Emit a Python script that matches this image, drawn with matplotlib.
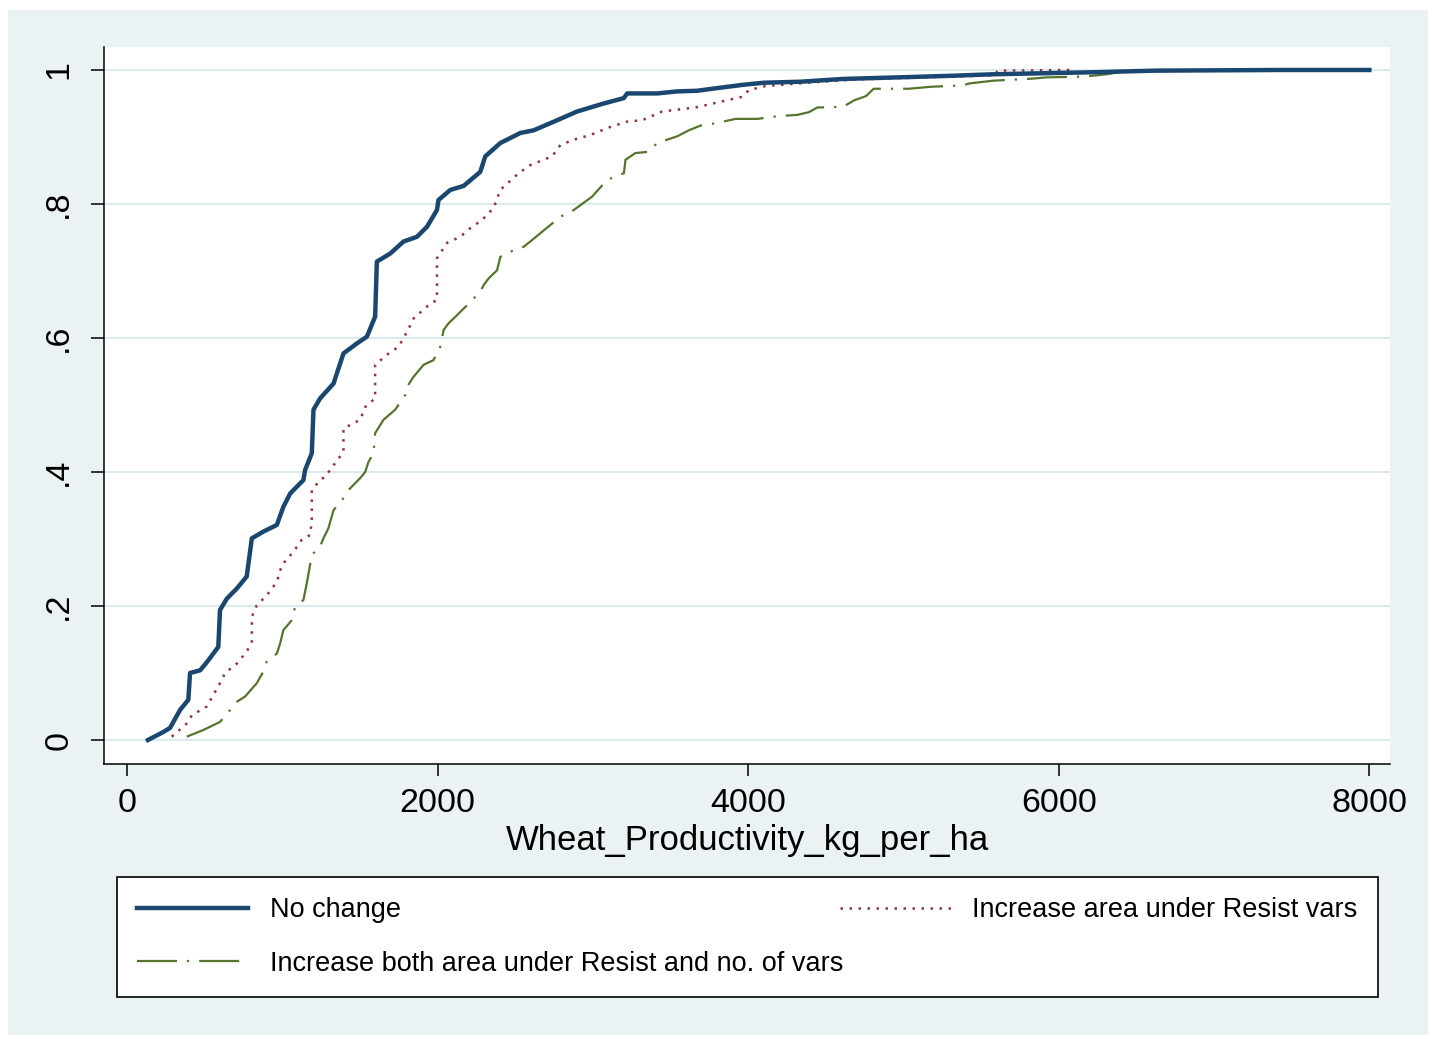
import matplotlib
matplotlib.use("Agg")
import matplotlib.pyplot as plt
from matplotlib.patches import Rectangle

plt.rcParams["font.family"] = ["Liberation Sans", "DejaVu Sans"]

# ---- data ---------------------------------------------------------------------
nochange_x = [135, 234, 277, 342, 395, 406, 471, 524, 588, 599, 643, 707, 771, 804,
              878, 965, 1007, 1051, 1136, 1147, 1190, 1201, 1244, 1330, 1394, 1481,
              1545, 1598, 1609, 1695, 1781, 1867, 1932, 1996, 2006, 2082, 2168, 2275,
              2307, 2404, 2533, 2619, 2770, 2898, 3070, 3199, 3221, 3414, 3543, 3672,
              3801, 3972, 4101, 4338, 4608, 5056, 5329, 5575, 6220, 6619, 7425, 8000]
nochange_y = [0.0, .012, .018, .045, .06, .10, .104, .119, .139, .194, .211, .226, .244,
              .301, .311, .321, .348, .368, .388, .403, .428, .493, .51, .532, .577, .592,
              .602, .632, .714, .726, .744, .751, .766, .791, .806, .821, .827, .848, .871,
              .891, .906, .910, .925, .938, .950, .958, .965, .965, .968, .969, .973, .978,
              .981, .9825, .9866, .9896, .9915, .9936, .9966, .999, 1.0, 1.0]

resist_x = [288, 363, 395, 417, 514, 599, 632, 707, 771, 804, 804, 836, 900, 965, 997,
            1072, 1126, 1180, 1190, 1190, 1244, 1276, 1394, 1394, 1502, 1534, 1598, 1598,
            1674, 1749, 1803, 1845, 1932, 1996, 1996, 2061, 2146, 2211, 2286, 2361, 2404,
            2522, 2597, 2737, 2791, 2877, 2984, 3113, 3221, 3317, 3446, 3661, 3962, 4005,
            4112, 4273, 4381, 4700, 5300, 5580, 5610, 6100]
resist_y = [.005, .020, .027, .037, .050, .085, .10, .114, .132, .147, .184, .201, .216,
            .236, .261, .281, .299, .306, .328, .373, .388, .393, .430, .465, .478, .497,
            .510, .560, .575, .587, .609, .629, .647, .657, .719, .742, .751, .764, .776,
            .794, .821, .846, .858, .871, .888, .896, .903, .915, .923, .925, .938, .944,
            .960, .970, .976, .979, .981, .986, .990, .992, .999, 1.0]

both_x = [385, 492, 599, 664, 707, 761, 836, 878, 900, 965, 986, 1007, 1062, 1083, 1136,
          1158, 1190, 1244, 1265, 1297, 1330, 1394, 1426, 1502, 1534, 1555, 1588, 1598,
          1652, 1727, 1792, 1803, 1845, 1910, 1974, 2017, 2039, 2071, 2125, 2190, 2275,
          2297, 2329, 2383, 2404, 2490, 2554, 2597, 2791, 2877, 2995, 3092, 3200, 3210,
          3274, 3360, 3414, 3543, 3618, 3693, 3801, 3919, 4059, 4188, 4316, 4391, 4445,
          4610, 4685, 4759, 4808, 5032, 5181, 5379, 5427, 5577, 5825, 5923, 6148, 6246,
          6321, 6394, 6568, 6643]
both_y = [.005, .015, .027, .045, .057, .065, .085, .102, .117, .129, .144, .164, .179,
          .199, .209, .234, .276, .289, .301, .316, .343, .361, .373, .391, .400, .415,
          .428, .458, .478, .493, .515, .527, .542, .560, .567, .587, .612, .622, .634,
          .649, .669, .679, .689, .701, .721, .731, .736, .744, .781, .791, .811, .836,
          .846, .866, .876, .878, .891, .901, .910, .917, .921, .927, .927, .931, .933,
          .937, .944, .945, .955, .961, .972, .972, .975, .977, .980, .984, .987, .989,
          .990, .992, .994, .997, .999, 1.0]

x_ticks = [0, 2000, 4000, 6000, 8000]
y_ticks = [0, .2, .4, .6, .8, 1]
y_ticklabels = ["0", ".2", ".4", ".6", ".8", "1"]
labels = ["No change", "Increase both area under Resist and no. of vars",
          "Increase area under Resist vars"]

# ---- figure --------------------------------------------------------------------
W, H = 1432, 1039
fig = plt.figure(figsize=(W / 100, H / 100), dpi=100, facecolor="white")
fig.patches.append(Rectangle((8 / W, 4 / H), 1420 / W, 1025 / H, transform=fig.transFigure,
                             facecolor="#eaf2f3", edgecolor="none", zorder=-10))

ax = fig.add_axes([104 / W, 1 - 764 / H, (1390 - 104) / W, (764 - 47) / H])
ax.set_facecolor("white")

l_both, = ax.plot(both_x, both_y, color="#55752f", lw=1.6,
                  linestyle=(0, (18, 4.5, 1, 4.5)), zorder=2)
l_res, = ax.plot(resist_x, resist_y, color="#90353b", lw=1.8,
                 linestyle=(0, (1, 2.6)), zorder=3)
l_nc, = ax.plot(nochange_x, nochange_y, color="#1a476f", lw=3.2, zorder=4)

ax.set_xlim(-148, 8133)
ax.set_ylim(-0.0358, 1.0343)
ax.set_xticks(x_ticks)
ax.set_yticks(y_ticks, labels=y_ticklabels)
for lab in ax.get_yticklabels():
    lab.set_rotation(90)
    lab.set_va("center")

ax.grid(axis="y", color="#dce9ee", lw=1.5)
ax.set_axisbelow(True)
for s in ("top", "right"):
    ax.spines[s].set_visible(False)
for s in ("left", "bottom"):
    ax.spines[s].set_linewidth(1.1)
ax.tick_params(axis="y", length=9.5, width=1.1, pad=12, labelsize=24.5)
ax.tick_params(axis="x", length=8.6, width=1.1, pad=9, labelsize=24.5)
ax.set_xlabel("Wheat_Productivity_kg_per_ha", fontsize=25, labelpad=3)

leg = fig.legend([l_nc, l_both, l_res], labels, ncol=2, mode="expand",
                 loc="center", bbox_to_anchor=(117 / W, 1 - 995 / H, (1378 - 117) / W, 116 / H),
                 fontsize=19.5, handlelength=4.1, handletextpad=0.8, labelspacing=1.0,
                 borderpad=0.75, borderaxespad=0, columnspacing=1.0,
                 fancybox=False, framealpha=1, edgecolor="black")
leg.get_frame().set_linewidth(1.2)

fig.savefig("out.png", dpi=100, facecolor="white")
